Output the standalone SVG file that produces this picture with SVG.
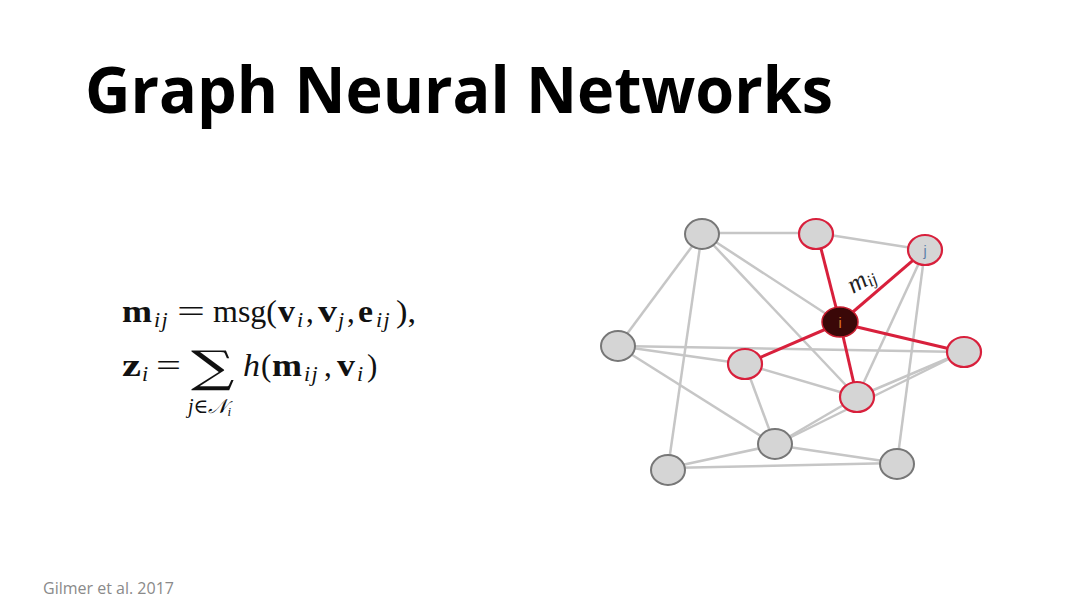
<svg xmlns="http://www.w3.org/2000/svg" width="1080" height="608" viewBox="0 0 1080 608">
<style>
.title{font-family:"Open Sans","Noto Sans",sans-serif;font-weight:700;font-size:64px;fill:#000}
.cite{font-family:"Open Sans","Noto Sans",sans-serif;font-size:16px;fill:#8a8a8a}
.math{font-family:"Liberation Serif","DejaVu Serif",serif;font-size:31px;fill:#111}
.b{font-weight:700}
.it{font-style:italic}
.sub{font-family:"Liberation Serif","DejaVu Serif",serif;font-style:italic;font-size:22px;letter-spacing:1.5px;fill:#111}
.e{stroke:#c6c6c6;stroke-width:2.5;fill:none}
.r{stroke:#d8203c;stroke-width:3;fill:none}
.n{fill:#d5d5d5;stroke:#777;stroke-width:2}
.nr{fill:#d5d5d5;stroke:#d8203c;stroke-width:2.2}
</style>
<rect width="1080" height="608" fill="#fff"/>
<text class="title" x="85" y="113" textLength="748" lengthAdjust="spacingAndGlyphs">Graph Neural Networks</text>
<text class="cite" x="43" y="594">Gilmer et al. 2017</text>
<g id="formula">
<text class="math b" x="122" y="322" textLength="30" lengthAdjust="spacingAndGlyphs">m</text>
<text class="sub" x="154" y="327">ij</text>
<text class="math" x="177" y="322" textLength="28" lengthAdjust="spacingAndGlyphs">=</text>
<text class="math" x="213" y="322" textLength="64" lengthAdjust="spacingAndGlyphs">msg(</text>
<text class="math b" x="278" y="322" textLength="17" lengthAdjust="spacingAndGlyphs">v</text>
<text class="sub" x="297" y="327">i</text>
<text class="math" x="306" y="322">,</text>
<text class="math b" x="318" y="322" textLength="19" lengthAdjust="spacingAndGlyphs">v</text>
<text class="sub" x="338" y="327">j</text>
<text class="math" x="347" y="322">,</text>
<text class="math b" x="358" y="322" textLength="15" lengthAdjust="spacingAndGlyphs">e</text>
<text class="sub" x="376" y="327">ij</text>
<text class="math" x="396" y="322" textLength="20" lengthAdjust="spacingAndGlyphs">),</text>
<text class="math b" x="122" y="376" textLength="19" lengthAdjust="spacingAndGlyphs">z</text>
<text class="sub" x="142" y="381">i</text>
<text class="math" x="156" y="376" textLength="25" lengthAdjust="spacingAndGlyphs">=</text>
<text x="191" y="382" transform="translate(191 382) scale(1.38 1) translate(-191 -382)" style="font-family:'DejaVu Serif',serif;font-size:44px;fill:#111">∑</text>
<text class="math it" x="243" y="376" textLength="17" lengthAdjust="spacingAndGlyphs">h</text>
<text class="math" x="261" y="376">(</text>
<text class="math b" x="272" y="376" textLength="30" lengthAdjust="spacingAndGlyphs">m</text>
<text class="sub" x="304" y="381">ij</text>
<text class="math" x="324" y="376">,</text>
<text class="math b" x="337" y="376" textLength="18" lengthAdjust="spacingAndGlyphs">v</text>
<text class="sub" x="357" y="381">i</text>
<text class="math" x="367" y="376">)</text>
<text x="188" y="413" style="font-family:'Liberation Serif','DejaVu Serif',serif;font-size:20px;font-style:italic;fill:#111">j∈𝒩<tspan font-size="13" dy="3">i</tspan></text>
</g>
<g id="connectors">
<line class="e" x1="702" y1="233" x2="817" y2="233"/>
<line class="e" x1="817" y1="233" x2="925" y2="250"/>
<line class="e" x1="702" y1="233" x2="618" y2="346"/>
<line class="e" x1="702" y1="233" x2="668" y2="468"/>
<line class="e" x1="702" y1="233" x2="840" y2="323"/>
<line class="e" x1="702" y1="233" x2="857" y2="397"/>
<line class="e" x1="618" y1="346" x2="963" y2="352"/>
<line class="e" x1="618" y1="346" x2="745" y2="364"/>
<line class="e" x1="618" y1="346" x2="775" y2="445"/>
<line class="e" x1="745" y1="364" x2="775" y2="445"/>
<line class="e" x1="745" y1="364" x2="857" y2="397"/>
<line class="e" x1="925" y1="250" x2="857" y2="397"/>
<line class="e" x1="925" y1="250" x2="897" y2="463"/>
<line class="e" x1="963" y1="352" x2="857" y2="397"/>
<line class="e" x1="963" y1="352" x2="775" y2="445"/>
<line class="e" x1="857" y1="397" x2="775" y2="445"/>
<line class="e" x1="775" y1="445" x2="668" y2="468"/>
<line class="e" x1="775" y1="445" x2="897" y2="463"/>
<line class="e" x1="668" y1="468" x2="897" y2="463"/>
<line class="r" x1="840" y1="323" x2="817" y2="233"/>
<line class="r" x1="840" y1="323" x2="925" y2="250"/>
<line class="r" x1="840" y1="323" x2="745" y2="364"/>
<line class="r" x1="840" y1="323" x2="963" y2="352"/>
<line class="r" x1="840" y1="323" x2="857" y2="397"/>
<text x="853" y="294" transform="rotate(-30 853 294)" style="font-family:'Liberation Serif','DejaVu Serif',serif;font-style:italic;font-size:26px;fill:#222">m<tspan font-size="17" dy="3">ij</tspan></text>
</g>
<g id="node-a"><ellipse class="n" cx="702" cy="234" rx="17" ry="15"/></g>
<g id="node-b"><ellipse class="nr" cx="816" cy="234" rx="17" ry="15"/></g>
<g id="node-j"><ellipse class="nr" cx="925" cy="250" rx="17" ry="15"/><text x="925" y="256" text-anchor="middle" style="font-family:'Liberation Sans',sans-serif;font-size:14px;fill:#5a7fa8">j</text></g>
<g id="node-i"><ellipse cx="840" cy="322" rx="18" ry="15" fill="#3a0808" stroke="#c81e30" stroke-width="1.5"/><text x="840" y="328" text-anchor="middle" style="font-family:'Liberation Sans',sans-serif;font-size:14px;fill:#e0782a">i</text></g>
<g id="node-l"><ellipse class="n" cx="618" cy="346" rx="17" ry="15"/></g>
<g id="node-c"><ellipse class="nr" cx="745" cy="364" rx="17" ry="15"/></g>
<g id="node-r"><ellipse class="nr" cx="964" cy="352" rx="17" ry="15"/></g>
<g id="node-d"><ellipse class="nr" cx="857" cy="397" rx="17" ry="15"/></g>
<g id="node-e"><ellipse class="n" cx="775" cy="444" rx="17" ry="15"/></g>
<g id="node-f"><ellipse class="n" cx="668" cy="470" rx="17" ry="15"/></g>
<g id="node-g"><ellipse class="n" cx="897" cy="464" rx="17" ry="15"/></g>
</svg>
